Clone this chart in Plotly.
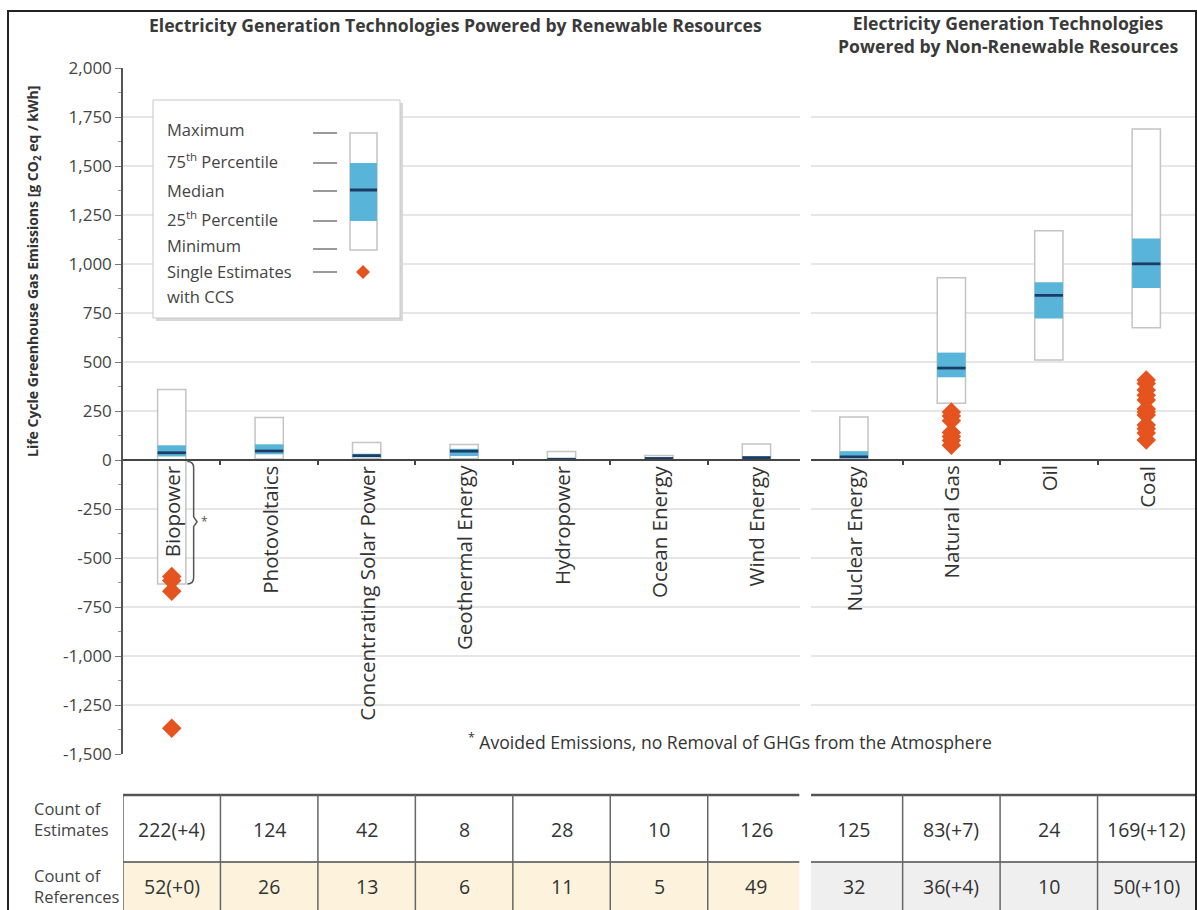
import plotly.graph_objects as go

# ---------------- data ----------------
categories = ["Biopower", "Photovoltaics", "Concentrating Solar Power", "Geothermal Energy",
              "Hydropower", "Ocean Energy", "Wind Energy", "Nuclear Energy",
              "Natural Gas", "Oil", "Coal"]
minimum = [-633, 5, 7, 6, 0, 2, 2, 1, 290, 510, 675]
p25 = [18, 29, 14, 20, 3, 6, 8, 8, 422, 722, 877]
median = [37, 46, 22, 45, 4, 8, 12, 16, 469, 840, 1001]
p75 = [75, 80, 32, 57, 7, 9, 20, 45, 548, 907, 1130]
maximum = [360, 217, 89, 79, 43, 23, 81, 220, 930, 1170, 1689]

ccs_biopower = [-595, -615, -670, -1368]
ccs_natural_gas = [245, 225, 200, 140, 120, 100, 75]
ccs_coal = [408, 390, 357, 330, 306, 260, 245, 230, 179, 160, 138, 102]

count_estimates = ["222(+4)", "124", "42", "8", "28", "10", "126", "125", "83(+7)", "24", "169(+12)"]
count_references = ["52(+0)", "26", "13", "6", "11", "5", "49", "32", "36(+4)", "10", "50(+10)"]

y_ticks = list(range(-1500, 2001, 250))
y_ticktext = [f"{v:,}" for v in y_ticks]

# ---------------- layout helpers ----------------
W, H = 1197, 910
FONT = "Open Sans"
DARK = "#333333"


def px(x):
    return x / W


def py(y):
    return 1 - y / H


idx = list(range(len(categories)))
BW = 0.29
MED_T = 14  # thickness of the median band in data units (~3px)

fig = go.Figure()

# white min-max boxes
fig.add_trace(go.Bar(
    x=idx, y=[mx - mn for mx, mn in zip(maximum, minimum)], base=minimum, width=BW,
    marker=dict(color="white", line=dict(color="#c4c4c4", width=1.5)),
    hoverinfo="skip"))
# interquartile boxes
fig.add_trace(go.Bar(
    x=idx, y=[b - a for a, b in zip(p25, p75)], base=p25, width=BW,
    marker=dict(color="#58b4d9", line=dict(width=0)), hoverinfo="skip"))
# medians
fig.add_trace(go.Bar(
    x=idx, y=[MED_T] * len(median), base=[m - MED_T / 2 for m in median], width=BW,
    marker=dict(color="#1d3c64", line=dict(width=0)), hoverinfo="skip"))
# CCS single estimates
ccs_x = [0] * len(ccs_biopower) + [8] * len(ccs_natural_gas) + [10] * len(ccs_coal)
ccs_y = ccs_biopower + ccs_natural_gas + ccs_coal
fig.add_trace(go.Scatter(
    x=ccs_x, y=ccs_y, mode="markers",
    marker=dict(symbol="diamond", size=15, color="#e5531f", line=dict(width=0)),
    hoverinfo="skip"))

shapes = []
annotations = []


def ann(x, y, text, size, color=DARK, xanchor="center", yanchor="middle", xref="paper",
        yref="paper", **kw):
    annotations.append(dict(x=x, y=y, xref=xref, yref=yref, text=text, showarrow=False,
                            xanchor=xanchor, yanchor=yanchor,
                            font=dict(family=FONT, size=size, color=color), **kw))


# vertical gap separating renewable / non-renewable
shapes.append(dict(type="rect", xref="paper", yref="paper", x0=px(800), x1=px(811),
                   y0=py(790), y1=py(58), fillcolor="white", line=dict(width=0), layer="above"))

# bracket for biopower avoided emissions
shapes.append(dict(type="path", xref="x", yref="y",
                   path="M 0.16,-8 Q 0.225,-8 0.225,-40 L 0.225,-290 L 0.26,-315 L 0.225,-340 "
                        "L 0.225,-600 Q 0.225,-633 0.16,-633",
                   line=dict(color="#555555", width=1.5)))
ann(0.34, -315, "*", 12, color="#555", xref="x", yref="y")

# category labels
for i, c in enumerate(categories):
    ann(i, -18, c, 20.5, xref="x", yref="y", yanchor="top", textangle=-90)

# headers
ann(px(455), py(25), "<b>Electricity Generation Technologies Powered by Renewable Resources</b>",
    17.6, color="#3a3a3a")
ann(px(1008), py(35), "<b>Electricity Generation Technologies<br>Powered by Non-Renewable Resources</b>",
    17.6, color="#3a3a3a")

# y title
ann(px(33), py(272), "<b>Life Cycle Greenhouse Gas Emissions [g CO<sub>2</sub> eq / kWh]</b>",
    14, textangle=-90)

# footnote
ann(px(730), py(741), "<sup>*</sup> Avoided Emissions, no Removal of GHGs from the Atmosphere", 17.6)

# ---------------- legend box ----------------
shapes.append(dict(type="rect", xref="paper", yref="paper", x0=px(156), x1=px(403),
                   y0=py(321), y1=py(103), fillcolor="#d8d8d8", line=dict(width=0), layer="above"))
shapes.append(dict(type="rect", xref="paper", yref="paper", x0=px(153), x1=px(400),
                   y0=py(318), y1=py(100), fillcolor="white", line=dict(color="#c8c8c8", width=1),
                   layer="above"))
legend_items = [("Maximum", 130, 133), ("75<sup>th</sup> Percentile", 161, 163), ("Median", 190, 191),
                ("25<sup>th</sup> Percentile", 219, 221), ("Minimum", 246, 249),
                ("Single Estimates", 271, 272)]
for txt, ty, ly in legend_items:
    ann(px(165), py(ty), txt, 16.5, color="#444", xanchor="left")
    shapes.append(dict(type="line", xref="paper", yref="paper", x0=px(313), x1=px(337),
                       y0=py(ly), y1=py(ly), line=dict(color="#777", width=1.5), layer="above"))
ann(px(165), py(297), "with CCS", 16.5, color="#444", xanchor="left")
shapes.append(dict(type="rect", xref="paper", yref="paper", x0=px(350), x1=px(377),
                   y0=py(250), y1=py(133), fillcolor="white", line=dict(color="#c4c4c4", width=1.5),
                   layer="above"))
shapes.append(dict(type="rect", xref="paper", yref="paper", x0=px(350), x1=px(377),
                   y0=py(221), y1=py(163), fillcolor="#58b4d9", line=dict(width=0), layer="above"))
shapes.append(dict(type="line", xref="paper", yref="paper", x0=px(350), x1=px(377),
                   y0=py(190), y1=py(190), line=dict(color="#1d3c64", width=3), layer="above"))
cx, cy, r = 363, 272, 7
shapes.append(dict(type="path", xref="paper", yref="paper",
                   path=f"M {px(cx - r)},{py(cy)} L {px(cx)},{py(cy - r)} L {px(cx + r)},{py(cy)} "
                        f"L {px(cx)},{py(cy + r)} Z",
                   fillcolor="#e5531f", line=dict(width=0), layer="above"))

# ---------------- table ----------------
T_TOP, T_MID, T_BOT = 795, 862, 912
GAP_L, GAP_R = 6.44, 6.56
shapes.append(dict(type="rect", xref="x", yref="paper", x0=-0.5, x1=GAP_L, y0=py(T_BOT), y1=py(T_MID),
                   fillcolor="#fdf3dc", line=dict(width=0)))
shapes.append(dict(type="rect", xref="x", yref="paper", x0=GAP_R, x1=10.5, y0=py(T_BOT), y1=py(T_MID),
                   fillcolor="#efefef", line=dict(width=0)))
for (a, b) in [(-0.5, GAP_L), (GAP_R, 10.5)]:
    shapes.append(dict(type="line", xref="x", yref="paper", x0=a, x1=b, y0=py(T_TOP), y1=py(T_TOP),
                       line=dict(color="#555", width=2.5)))
    shapes.append(dict(type="line", xref="x", yref="paper", x0=a, x1=b, y0=py(T_MID), y1=py(T_MID),
                       line=dict(color="#777", width=2)))
for xb in [-0.5, 0.5, 1.5, 2.5, 3.5, 4.5, 5.5, 7.5, 8.5, 9.5]:
    shapes.append(dict(type="line", xref="x", yref="paper", x0=xb, x1=xb, y0=py(T_BOT), y1=py(T_TOP),
                       line=dict(color="#666", width=1.5)))
for i in idx:
    ann(i, py(829), count_estimates[i], 19.5, xref="x")
    ann(i, py(886), count_references[i], 19.5, xref="x")
ann(px(32), py(819), "Count of<br>Estimates", 16.5, color="#444", xanchor="left", align="left")
ann(px(32), py(886), "Count of<br>References", 16.5, color="#444", xanchor="left", align="left")

# outer frame
shapes.append(dict(type="rect", xref="paper", yref="paper", x0=px(8), x1=px(1196), y0=py(915), y1=py(11),
                   line=dict(color="#222", width=2), fillcolor="rgba(0,0,0,0)", layer="above"))

fig.update_layout(
    width=W, height=H, margin=dict(l=0, r=0, t=0, b=0, pad=0, autoexpand=False),
    plot_bgcolor="white", paper_bgcolor="white", showlegend=False, barmode="overlay",
    xaxis=dict(domain=[px(123), px(1195)], range=[-0.5, 10.5], anchor="free", position=py(460),
               showline=True, linecolor="#444", linewidth=2, ticks="outside", ticklen=4,
               tickcolor="#444", tickwidth=2, tickvals=[0.5 + k for k in range(10)],
               showticklabels=False, showgrid=False, zeroline=False, automargin=False),
    yaxis=dict(domain=[py(754), py(68)], range=[-1500, 2000], tickvals=y_ticks, ticktext=y_ticktext,
               showline=True, linecolor="#555", linewidth=1.5, ticks="outside", ticklen=6,
               tickcolor="#777", minor=dict(dtick=125, ticks="outside", ticklen=3, tickcolor="#999"),
               gridcolor="#e6e6e6", gridwidth=1.5, zeroline=False, automargin=False,
               tickfont=dict(family=FONT, size=17, color="#444")),
    shapes=shapes, annotations=annotations,
)

fig.write_html("out.html", config={"displayModeBar": False},
               post_script="document.body.style.margin='0px';")
